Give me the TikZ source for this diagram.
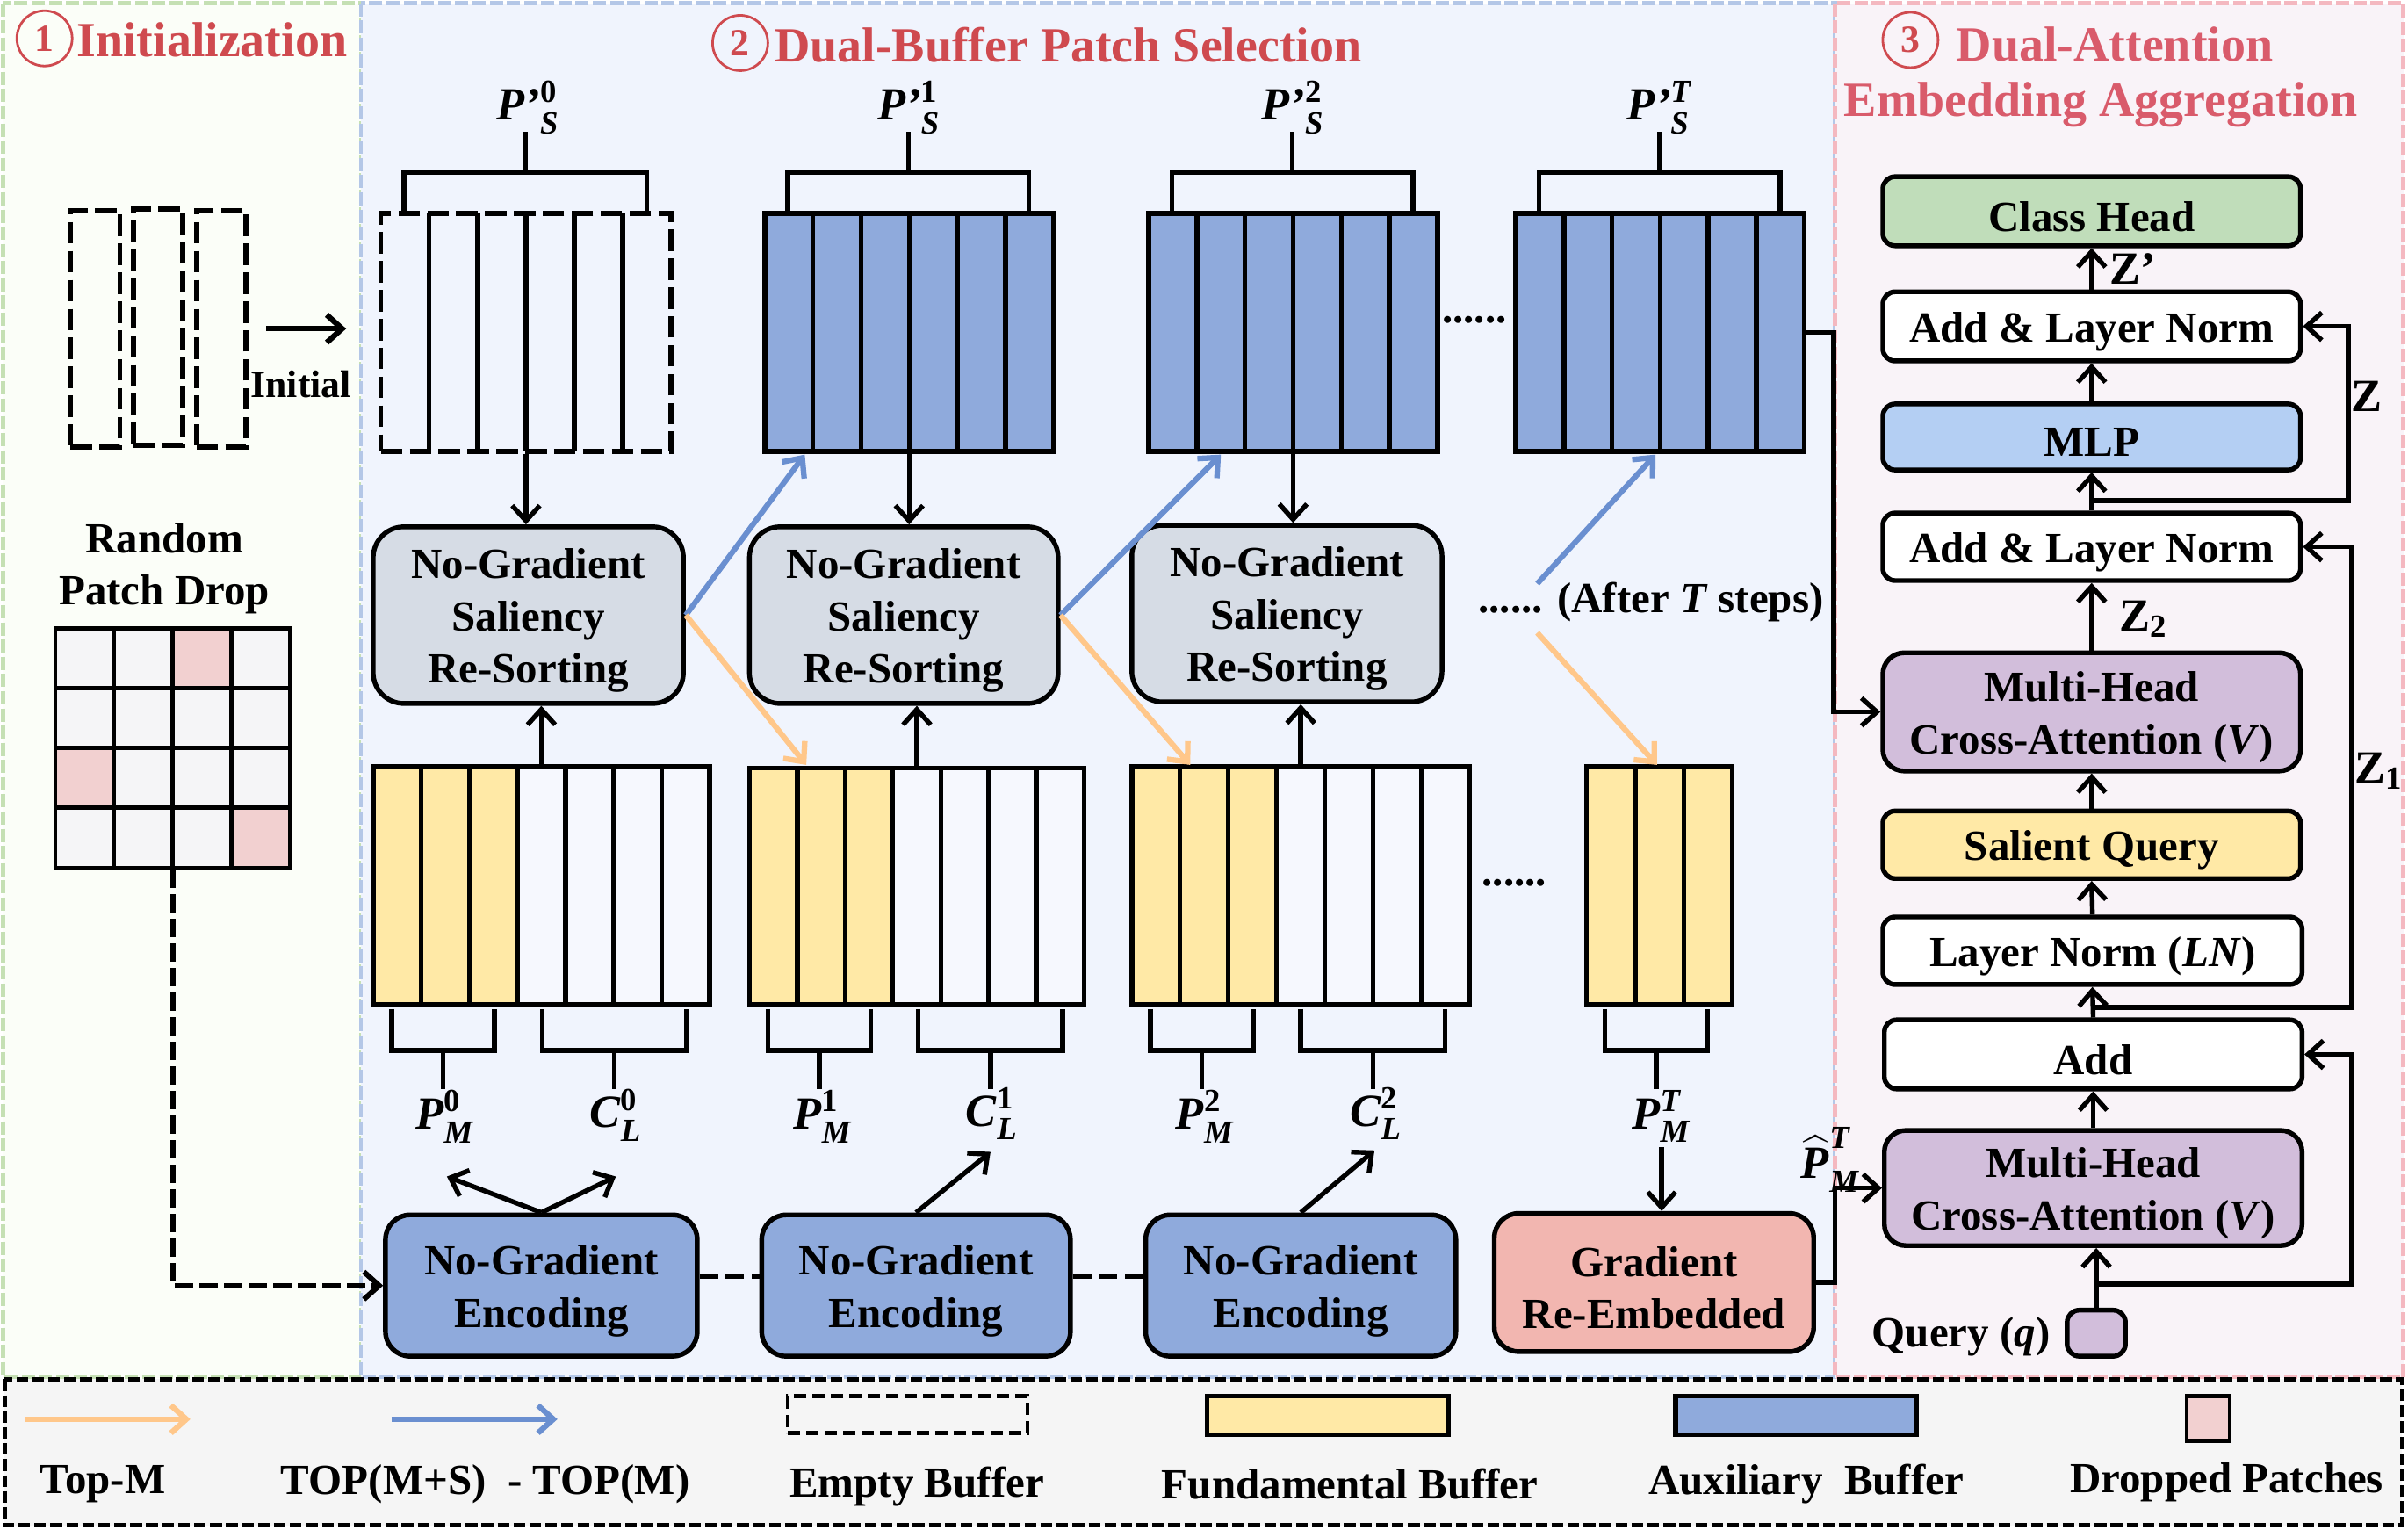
\documentclass[tikz,border=0pt]{standalone}
\usepackage{amsmath}
\usepackage{fontspec}
\setmainfont{Liberation Serif}
\usetikzlibrary{arrows.meta}
\definecolor{secG}{HTML}{FBFEF8}
\definecolor{secGb}{HTML}{C5E0B4}
\definecolor{secB}{HTML}{F0F4FD}
\definecolor{secBb}{HTML}{B4C7E7}
\definecolor{secP}{HTML}{F9F3F8}
\definecolor{secPb}{HTML}{F4B8C0}
\definecolor{legbg}{HTML}{F5F5F5}
\definecolor{ttlred}{HTML}{CF4A4F}
\definecolor{ttlpink}{HTML}{D95B6B}
\definecolor{yel}{HTML}{FFE9A6}
\definecolor{aux}{HTML}{8FAADC}
\definecolor{wcell}{HTML}{F6F8FE}
\definecolor{sal}{HTML}{D6DCE5}
\definecolor{grad}{HTML}{F2B6B0}
\definecolor{chead}{HTML}{C0DDBA}
\definecolor{mlpc}{HTML}{B4CFF3}
\definecolor{mhca}{HTML}{D2BEDB}
\definecolor{gcell}{HTML}{F5F5F7}
\definecolor{gpink}{HTML}{F2D0D0}
\definecolor{orng}{HTML}{FFC78A}
\definecolor{blu}{HTML}{6A8FD0}

\newcommand\mybox[7]{%
  \pgfmathsetmacro\mbcx{(#2+#4)/2}%
  \pgfmathsetmacro\mbcy{(#3+#5)/2}%
  \pgfmathsetmacro\mbty{(#3+#5)/2+3.5}%
  \pgfmathsetmacro\mbw{(#4-#2)/2}%
  \pgfmathsetmacro\mbh{(#5-#3)/2}%
  \node[#6, minimum width=\mbw pt, minimum height=\mbh pt] (#1) at (\mbcx,\mbcy) {};%
  \if\relax\detokenize{#7}\relax\else
  \node[txt] (#1-t) at (\mbcx,\mbty) {#7};\fi}
\def\bufol{bufsolid}
\newcommand\buffer[9]{%
  \pgfmathsetmacro\bfw{(#3-#2)/#6}%
  \foreach \bi in {1,...,#6}{%
    \pgfmathsetmacro\bxa{#2+(\bi-1)*\bfw}%
    \pgfmathsetmacro\bxb{#2+\bi*\bfw}%
    \ifnum\bi>#7\relax \fill[#9] (\bxa,#4) rectangle (\bxb,#5);\else \fill[#8] (\bxa,#4) rectangle (\bxb,#5);\fi
    \ifnum\bi>1\relax \draw[thk] (\bxa,#4) -- (\bxa,#5);\fi
  }%
  \mybox{#1}{#2}{#4}{#3}{#5}{\bufol}{}}
\newcommand\PS[1]{$\textbf{\textit{P’}}^{#1}_{\textbf{\textit{S}}}$}
\newcommand\PM[1]{$\textbf{\textit{P}}^{#1}_{\textbf{\textit{M}}}$}
\newcommand\CL[1]{$\textbf{\textit{C}}^{#1}_{\textbf{\textit{L}}}$}

\tikzset{
  thk/.style={line width=1.55pt},
  tip/.tip={Straight Barb[length=5pt,width=9pt]},
  arr/.style={thk, -tip},
  oarr/.style={line width=1.8pt, draw=orng, -tip},
  barr/.style={line width=1.8pt, draw=blu, -tip},
  txt/.style={font=\bfseries\fontsize{14}{17}\selectfont, align=center, inner sep=0pt},
  lbl/.style={font=\boldmath\bfseries\fontsize{15}{17}\selectfont, inner sep=0pt},
  ttl/.style={font=\bfseries\fontsize{16}{19}\selectfont, inner sep=0pt},
  cnum/.style={circle, draw=ttlred, line width=0.8pt, minimum size=18pt, inner sep=0pt, text=ttlred, font=\bfseries\fontsize{12.5}{12}\selectfont},
  secline/.style={line width=1.4pt, dash pattern=on 4.3pt off 1.3pt},
  bufsolid/.style={draw, thk, inner sep=0pt},
  bufdash/.style={draw, thk, inner sep=0pt, dash pattern=on 7pt off 2.4pt},
  salbox/.style={draw, thk, fill=sal, rounded corners=10pt},
  encbox/.style={draw, thk, fill=aux, rounded corners=8pt},
  gradbox/.style={draw, thk, fill=grad, rounded corners=8pt},
  rbox/.style={draw, thk, rounded corners=4pt},
  mhbox/.style={draw, thk, fill=mhca, rounded corners=7pt},
}

\begin{document}
\begin{tikzpicture}[x=0.5pt,y=-0.5pt]
\useasboundingbox (0,0) rectangle (1568,996);
\fill[white] (0,0) rectangle (1568,996);
% section backgrounds
\draw[secline, draw=secGb, fill=secG] (2,2) rectangle (235,897);
\draw[secline, draw=secBb, fill=secB] (235,2) rectangle (1195,897);
\draw[secline, draw=secPb, fill=secP] (1195,2) rectangle (1565,897);
\draw[line width=1.3pt, dash pattern=on 3.8pt off 1.4pt, fill=legbg] (3,898) rectangle (1564,993);

% titles
\node[cnum] (c1) at (29,25) {1};
\node[ttl, text=ttlred] (t1) at (138,26) {Initialization};
\node[cnum] (c2) at (482,28) {2};
\node[ttl, text=ttlred] (t2) at (695.5,29) {Dual-Buffer Patch Selection};
\node[cnum] (c3) at (1244,26) {3};
\node[ttl, text=ttlpink] (t3) at (1377,29) {Dual-Attention};
\node[ttl, text=ttlpink] (t3b) at (1368,68) {Embedding Aggregation};

% ---------- section 1
\tikzset{idash/.style={draw, thk, dash pattern=on 7pt off 2.4pt, inner sep=0pt}}
\mybox{r1}{46}{137}{78}{291}{idash}{}
\mybox{r2}{87}{136}{119}{290}{idash}{}
\mybox{r3}{128}{137}{160}{291}{idash}{}
\node[font=\bfseries\fontsize{12.5}{15}\selectfont, inner sep=0pt] (init) at (196,250) {Initial};
\node[txt] (rpd) at (107,370) {Random\\Patch Drop};
% grid
\foreach \r in {0,...,3}{\foreach \c in {0,...,3}{%
  \fill[gcell] ({36+\c*38.25},{409+\r*39}) rectangle ++(38.25,39);}}
\fill[gpink] ({36+2*38.25},409) rectangle ++(38.25,39);
\fill[gpink] (36,{409+2*39}) rectangle ++(38.25,39);
\fill[gpink] ({36+3*38.25},{409+3*39}) rectangle ++(38.25,39);
\foreach \c in {1,2,3}{\draw[line width=1.4pt] ({36+\c*38.25},409) -- ({36+\c*38.25},565);}
\foreach \r in {1,2,3}{\draw[line width=1.4pt] (36,{409+\r*39}) -- (189,{409+\r*39});}
\mybox{grid}{36}{409}{189}{565}{draw, line width=1.4pt, inner sep=0pt}{}

% ---------- section 2 : auxiliary buffers
\def\bufol{bufdash}
\buffer{B0}{248}{437}{139}{294}{6}{0}{secB}{secB}
\def\bufol{bufsolid}
\buffer{B1}{498}{686}{139}{294}{6}{6}{aux}{aux}
\buffer{B2}{748}{936}{139}{294}{6}{6}{aux}{aux}
\buffer{BT}{987}{1175}{139}{294}{6}{6}{aux}{aux}
% top brackets
\foreach \L/\R in {248/437,498/686,748/936,987/1175}{%
  \draw[thk] ({\L+15},137) -- ({\L+15},112) -- ({\R-16},112) -- ({\R-16},137);
  \draw[thk] ({(\L+\R)/2-0.5},112) -- ({(\L+\R)/2-0.5},86);}
\node[lbl] (ps0) at (344,70) {\PS{\textbf{0}}};
\node[lbl] (ps1) at (592,70) {\PS{\textbf{1}}};
\node[lbl] (ps2) at (842,70) {\PS{\textbf{2}}};
\node[lbl] (psT) at (1081,70) {\PS{\textbf{\textit{T}}}};
\node[txt] (dots1) at (960,208) {......};

% saliency boxes
\mybox{S0}{243}{343}{445}{458}{salbox}{No-Gradient\\Saliency\\Re-Sorting}
\mybox{S1}{488}{343}{689}{458}{salbox}{No-Gradient\\Saliency\\Re-Sorting}
\mybox{S2}{737}{342}{939}{457}{salbox}{No-Gradient\\Saliency\\Re-Sorting}
\node[txt] (after) at (1075,392) {...... (After \textit{T} steps)};

% fundamental buffers
\buffer{F0}{243}{462}{499}{654}{7}{3}{yel}{wcell}
\buffer{F1}{488}{706}{500}{654}{7}{3}{yel}{wcell}
\buffer{F2}{737}{957}{499}{654}{7}{3}{yel}{wcell}
\buffer{FT}{1033}{1128}{499}{654}{3}{3}{yel}{yel}
\node[txt] (dots2) at (986,575) {......};
% bottom brackets
\foreach \L in {243,488,737,1033}{%
  \draw[thk] ({\L+12},657) -- ({\L+12},684) -- ({\L+79},684) -- ({\L+79},657);
  \draw[thk] ({\L+45.5},684) -- ({\L+45.5},709);}
\foreach \L in {243,488,737}{%
  \draw[thk] ({\L+110},657) -- ({\L+110},684) -- ({\L+204},684) -- ({\L+204},657);
  \draw[thk] ({\L+157},684) -- ({\L+157},709);}
\node[lbl] (pm0) at (290,727) {\PM{\textbf{0}}};
\node[lbl] (cl0) at (401,726) {\CL{\textbf{0}}};
\node[lbl] (pm1) at (536,727) {\PM{\textbf{1}}};
\node[lbl] (cl1) at (646,725) {\CL{\textbf{1}}};
\node[lbl] (pm2) at (785,727) {\PM{\textbf{2}}};
\node[lbl] (cl2) at (896,725) {\CL{\textbf{2}}};
\node[lbl] (pmT) at (1082,727) {\PM{\textbf{\textit{T}}}};

% encoding boxes
\mybox{E1}{251}{791}{454}{883}{encbox}{No-Gradient\\Encoding}
\mybox{E2}{496}{791}{697}{883}{encbox}{No-Gradient\\Encoding}
\mybox{E3}{746}{791}{948}{883}{encbox}{No-Gradient\\Encoding}
\mybox{G}{973}{790}{1181}{880}{gradbox}{Gradient\\Re-Embedded}

% vertical arrows in section 2
\foreach \b/\s in {B0/S0,B1/S1,B2/S2}{\draw[arr] (\b.south) -- (\b.south |- \s.north);}
\foreach \f/\s in {F0/S0,F1/S1,F2/S2}{\draw[arr] (\f.north) -- (\f.north |- \s.south);}
% colored arrows
\coordinate (tb1) at (524,296);
\coordinate (tf1) at (525,498);
\coordinate (tb2) at (795,296);
\coordinate (tf2) at (775,498);
\coordinate (tbT) at (1078,296);
\coordinate (tfT) at (1079,498);
\coordinate (sa) at (1001,380);
\coordinate (sb) at (1001,412);
\draw[barr] (S0.east) -- (tb1);
\draw[oarr] (S0.east) -- (tf1);
\draw[barr] (S1.east) -- (tb2);
\draw[oarr] (S1.east) -- (tf2);
\draw[barr] (sa) -- (tbT);
\draw[oarr] (sb) -- (tfT);
% encoding arrows
\coordinate (a0p) at (291,766);
\coordinate (a0c) at (401,766);
\coordinate (a1c) at (645,750);
\coordinate (a2c) at (895,749);
\coordinate (aTp) at (1082,747);
\draw[arr] (E1.north) -- (a0p);
\draw[arr] (E1.north) -- (a0c);
\draw[arr] (E2.north) -- (a1c);
\draw[arr] (E3.north) -- (a2c);
\draw[arr] (aTp) -- (aTp |- G.north);
% dashed links
\coordinate (dl) at (0,831);
\draw[thk, dash pattern=on 6pt off 2.5pt] (E1.east |- dl) -- (E2.west |- dl);
\draw[thk, dash pattern=on 6pt off 2.5pt] (E2.east |- dl) -- (E3.west |- dl);
\draw[arr, line width=1.7pt, dash pattern=on 6pt off 2pt] (grid.south) |- (E1.west);
% initial arrow
\draw[arr, line width=1.8pt, shorten <=6pt, shorten >=10.5pt] (r3.east) -- (r3.east -| B0.west);

% ---------- section 3
\mybox{CH}{1226}{115}{1498}{160}{rbox, fill=chead}{Class Head}
\mybox{ALN2}{1226}{190}{1498}{235}{rbox, fill=white}{Add \& Layer Norm}
\mybox{MLP}{1226}{263}{1498}{306}{rbox, fill=mlpc}{MLP}
\mybox{ALN1}{1226}{334}{1498}{378}{rbox, fill=white}{Add \& Layer Norm}
\mybox{MH2}{1226}{425}{1498}{502}{mhbox}{Multi-Head\\Cross-Attention (\textit{V})}
\mybox{SQ}{1226}{528}{1498}{572}{rbox, fill=yel}{Salient Query}
\mybox{LN}{1226}{597}{1499}{641}{rbox, fill=white}{Layer Norm (\textit{LN})}
\mybox{ADD}{1227}{664}{1499}{709}{rbox, fill=white}{Add}
\mybox{MH1}{1227}{736}{1499}{811}{mhbox}{Multi-Head\\Cross-Attention (\textit{V})}
\mybox{Q}{1346}{853}{1384}{883}{draw, thk, fill=mhca, rounded corners=4pt, inner sep=0pt}{}
\node[txt] (qlab) at (1277,870) {Query (\textit{q})};

\draw[arr] (ALN2.north) -- (CH.south);
\node[lbl] (zp) at (1389,175) {\textbf{Z’}};
\draw[arr] (MLP.north) -- (ALN2.south);
\draw[arr] (ALN1.north) -- (MLP.south);
\coordinate (zj) at (1362,326);
\coordinate (zr) at (1529,0);
\draw[arr] (zj) -- (zj -| zr) |- (ALN2.east);
\node[lbl] (zl) at (1541,258) {$\textbf{Z}$};
\draw[arr] (MH2.north) -- (ALN1.south);
\node[lbl] (z2) at (1396,403) {$\textbf{Z}_{\textbf{2}}$};
\draw[arr] (SQ.north) -- (MH2.south);
\draw[arr] (LN.north) -- (SQ.south);
\draw[arr] (ADD.north) -- (LN.south);
\coordinate (z1j) at (1363,656);
\coordinate (zr1) at (1531,0);
\draw[arr] (z1j) -- (z1j -| zr1) |- (ALN1.east);
\node[lbl] (z1) at (1549,502) {$\textbf{Z}_{\textbf{1}}$};
\draw[arr] (MH1.north) -- (ADD.south);
\draw[arr] (Q.north) -- (Q.north |- MH1.south);
\coordinate (qj) at (1365,836);
\draw[arr] (qj) -- (qj -| zr1) |- (ADD.east);
% inputs into section 3
\coordinate (inx) at (1194,0);
\draw[arr] (BT.east) -- (BT.east -| inx) |- (MH2.west);
\coordinate (inx2) at (1195,0);
\draw[arr] (G.east) -- (G.east -| inx2) |- (MH1.west);
\node[lbl, anchor=east] (phat) at (1212,755) {$\widehat{\textbf{\textit{P}}}^{\textbf{\textit{T}}}_{\textbf{\textit{M}}}$};

% ---------- legend
\coordinate (lo1) at (16,924); \coordinate (lo2) at (124,924);
\draw[oarr] (lo1) -- (lo2);
\node[txt] (lg1) at (67,966) {Top-M};
\coordinate (lb1) at (255,924); \coordinate (lb2) at (363,924);
\draw[barr] (lb1) -- (lb2);
\node[txt] (lg2) at (316,966) {TOP(M+S)\ \ - TOP(M)};
\mybox{le}{513}{909}{669}{933}{draw, line width=1.3pt, dash pattern=on 4pt off 2pt, inner sep=0pt}{}
\node[txt] (lg3) at (597,968) {Empty Buffer};
\mybox{lf}{786}{909}{943}{934}{draw, line width=1.5pt, fill=yel, inner sep=0pt}{}
\node[txt] (lg4) at (879,966) {Fundamental Buffer};
\mybox{la}{1091}{909}{1248}{934}{draw, line width=1.5pt, fill=aux, inner sep=0pt}{}
\node[txt] (lg5) at (1176,966) {Auxiliary\ \ Buffer};
\mybox{lp}{1424}{909}{1452}{938}{draw, line width=1.3pt, fill=gpink, inner sep=0pt}{}
\node[txt] (lg6) at (1450,965) {Dropped Patches};
\end{tikzpicture}
\end{document}
